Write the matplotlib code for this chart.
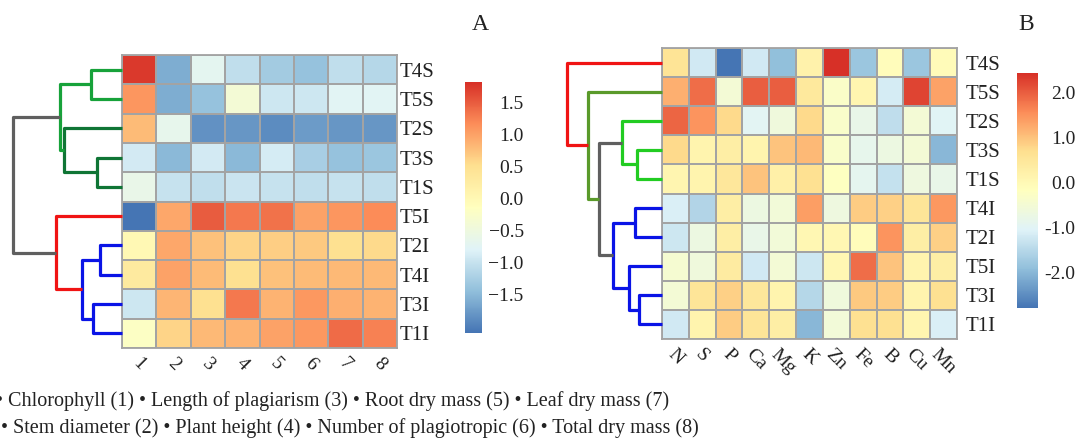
import numpy as np
import matplotlib
matplotlib.use("Agg")
import matplotlib.pyplot as plt
from matplotlib.colors import LinearSegmentedColormap

plt.rcParams['font.family'] = ['Liberation Serif', 'DejaVu Serif']

# --- Panel A: growth traits -------------------------------------------------
rows_a = ['T4S', 'T5S', 'T2S', 'T3S', 'T1S', 'T5I', 'T2I', 'T4I', 'T3I', 'T1I']
cols_a = ['1', '2', '3', '4', '5', '6', '7', '8']
vals_a = [
    [1.75, -1.60, -0.70, -1.05, -1.30, -1.40, -1.05, -1.15],
    [1.10, -1.60, -1.40, -0.40, -0.95, -0.95, -0.75, -0.75],
    [0.80, -0.65, -1.85, -1.80, -1.90, -1.75, -1.80, -1.80],
    [-0.90, -1.50, -0.90, -1.50, -0.88, -1.25, -1.40, -1.35],
    [-0.60, -1.00, -1.05, -0.98, -1.00, -1.05, -1.00, -1.05],
    [-2.10, 0.95, 1.50, 1.30, 1.35, 1.00, 1.10, 1.17],
    [0.00, 0.95, 0.75, 0.60, 0.65, 0.70, 0.50, 0.55],
    [0.30, 1.00, 0.80, 0.50, 0.75, 0.80, 0.82, 0.82],
    [-0.95, 0.85, 0.50, 1.30, 0.87, 1.08, 0.90, 0.87],
    [-0.20, 0.60, 0.82, 0.87, 1.00, 1.08, 1.40, 1.25],
]
range_a = (-2.1, 1.82)
ticks_a = [1.5, 1.0, 0.5, 0.0, -0.5, -1.0, -1.5]
# merges: (child, child, distance, colour); children < 10 are rows, others earlier merges
links_a = [
    (0, 1, 31, '#17a23a'),
    (3, 4, 25, '#0f7535'),
    (2, 11, 58, '#0f7535'),
    (10, 12, 62, '#17a23a'),
    (6, 7, 22, '#0a14e6'),
    (8, 9, 29, '#0a14e6'),
    (14, 15, 40, '#0a14e6'),
    (5, 16, 66, '#f01414'),
    (13, 17, 109, '#5f5f5f'),
]

# --- Panel B: nutrients -----------------------------------------------------
rows_b = ['T4S', 'T5S', 'T2S', 'T3S', 'T1S', 'T4I', 'T2I', 'T5I', 'T3I', 'T1I']
cols_b = ['N', 'S', 'P', 'Ca', 'Mg', 'K', 'Zn', 'Fe', 'B', 'Cu', 'Mn']
vals_b = [
    [0.60, -1.20, -2.78, -1.20, -1.90, 0.20, 2.44, -1.80, -0.10, -1.80, -0.05],
    [1.20, 1.85, -0.50, 2.00, 2.00, 0.45, -0.30, 0.10, -1.15, 2.25, 1.35],
    [1.95, 1.50, 0.75, -0.95, -0.60, 0.75, -0.35, -0.80, -1.40, -0.50, -1.00],
    [0.75, 0.15, 0.30, 0.15, 1.00, 1.10, -0.35, -0.85, -0.70, -0.50, -2.00],
    [0.10, 0.15, 0.50, 1.00, 0.25, 0.65, -0.20, -0.90, -1.35, -0.65, -0.80],
    [-1.10, -1.55, 0.30, -0.70, -0.55, 1.40, -0.65, 0.90, 0.85, 0.55, 1.45],
    [-1.25, -0.70, 0.30, -0.80, -0.55, 0.05, 0.05, -0.10, 1.50, 0.30, 0.85],
    [-0.45, -0.60, 0.40, -1.20, -0.50, -1.25, 0.05, 1.85, 1.00, 0.15, 0.30],
    [-0.50, 0.55, 0.85, 0.50, 0.15, -1.50, -0.60, 0.95, 0.90, 0.15, 0.65],
    [-1.20, 0.15, 0.90, 0.55, 0.30, -2.00, -0.55, 0.65, 0.65, 0.10, -1.10],
]
range_b = (-2.78, 2.44)
ticks_b = [2.0, 1.0, 0.0, -1.0, -2.0]
links_b = [
    (3, 4, 25, '#22cc22'),
    (2, 10, 40, '#22cc22'),
    (5, 6, 27, '#0a14e6'),
    (8, 9, 23, '#0a14e6'),
    (7, 13, 33, '#0a14e6'),
    (12, 14, 49, '#0a14e6'),
    (11, 15, 63, '#5f5f5f'),
    (1, 16, 74, '#5a9a2a'),
    (0, 17, 95, '#f01414'),
]

legend_lines = [
    '\u2022 Chlorophyll (1) \u2022 Length of plagiarism (3) \u2022 Root dry mass (5) \u2022 Leaf dry mass (7)',
    '\u2022 Stem diameter (2) \u2022 Plant height (4) \u2022 Number of plagiotropic (6) \u2022 Total dry mass (8)',
]

# pheatmap default palette
cmap = LinearSegmentedColormap.from_list(
    'ph', ['#4575B4', '#91BFDB', '#E0F3F8', '#FFFFBF', '#FEE090', '#FC8D59', '#D73027'])

W, H = 1081, 441
fig = plt.figure(figsize=(W / 100, H / 100), dpi=100)


def px_axes(x0, y0, x1, y1):
    return fig.add_axes([x0 / W, 1 - y1 / H, (x1 - x0) / W, (y1 - y0) / H])


def heatmap(ax, vals, rows, cols, vrange, pad):
    data = np.array(vals)
    m = ax.pcolormesh(data, cmap=cmap, vmin=vrange[0], vmax=vrange[1],
                      edgecolors='#a3a3a3', linewidth=1.3)
    ax.set_ylim(len(rows), 0)
    ax.set_xlim(0, len(cols))
    ax.yaxis.tick_right()
    ax.set_yticks(np.arange(len(rows)) + 0.5)
    ax.set_yticklabels(rows, fontsize=15, color='#222222')
    ax.set_xticks(np.arange(len(cols)) + 0.5)
    ax.set_xticklabels(cols, fontsize=14, rotation=-45, ha='center', va='top',
                       color='#222222')
    ax.tick_params(length=0, pad=pad)
    ax.tick_params(axis='x', pad=5)
    for s in ax.spines.values():
        s.set_color('#a3a3a3')
        s.set_linewidth(1.3)
    return m


def dendro(ax, links, n, width):
    ypos = {i: i + 0.5 for i in range(n)}
    hpos = {i: 0.0 for i in range(n)}
    for k, (a, b, h, c) in enumerate(links):
        ax.plot([hpos[a], h, h, hpos[b]], [ypos[a], ypos[a], ypos[b], ypos[b]],
                color=c, lw=2.3, clip_on=False, solid_capstyle='butt')
        ypos[n + k] = (ypos[a] + ypos[b]) / 2
        hpos[n + k] = h
    ax.set_ylim(n, 0)
    ax.set_xlim(width, 0)
    ax.axis('off')


def cbar(m, cax, ticks, fmt, pad):
    cb = fig.colorbar(m, cax=cax)
    cb.outline.set_visible(False)
    cb.set_ticks(ticks)
    cb.set_ticklabels([fmt(t) for t in ticks])
    cax.tick_params(length=0, pad=pad, labelsize=14, labelcolor='#222222')
    for t in cax.get_yticklabels():
        t.set_ha('right')


# panel A
ax_a = px_axes(122, 55, 397, 348)
m_a = heatmap(ax_a, vals_a, rows_a, cols_a, range_a, 2)
dendro(px_axes(5, 55, 122, 348), links_a, len(rows_a), 117)
cbar(m_a, px_axes(465, 82, 482, 333), ticks_a,
     lambda t: f'{t:.1f}'.replace('-', '\u2212'), 30)
fig.text(480 / W, 1 - 25 / H, 'A', fontsize=17, ha='center', va='center', color='#222222')

# panel B
ax_b = px_axes(662, 48, 957, 339)
m_b = heatmap(ax_b, vals_b, rows_b, cols_b, range_b, 6)
dendro(px_axes(560, 48, 662, 339), links_b, len(rows_b), 102)
cbar(m_b, px_axes(1017, 73, 1038, 308), ticks_b, lambda t: f'{t:.1f}', 27)
fig.text(1026 / W, 1 - 25 / H, 'B', fontsize=17, ha='center', va='center', color='#222222')

# legend of trait numbers
fig.text(-4 / W, 1 - 401 / H, legend_lines[0], fontsize=14.5, va='center', color='#222222')
fig.text(1 / W, 1 - 428 / H, legend_lines[1], fontsize=14.5, va='center', color='#222222')

fig.savefig('out.png', dpi=100)
